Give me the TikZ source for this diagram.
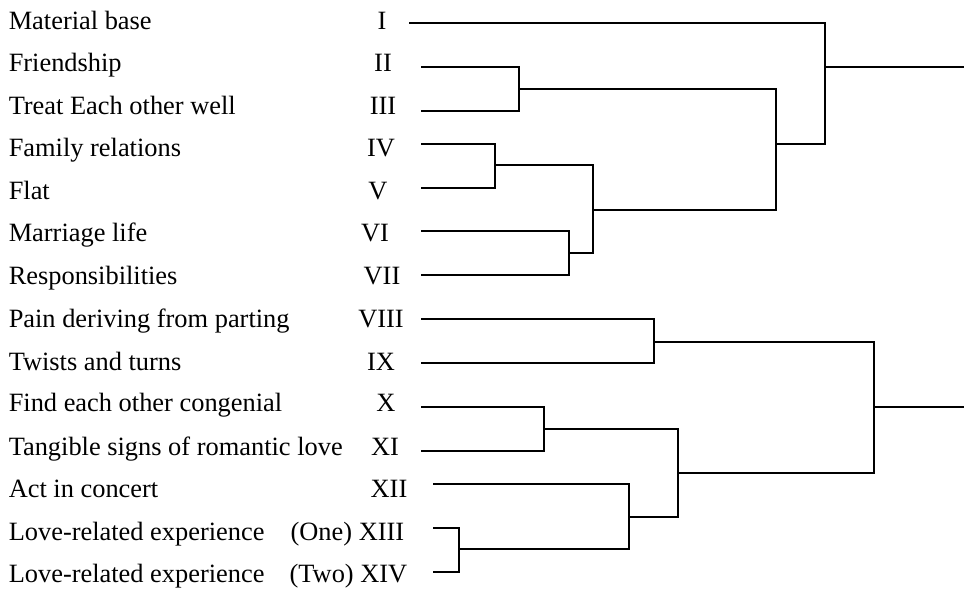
\documentclass[tikz,border=0pt]{standalone}
\usepackage{fontspec}
\setmainfont{Liberation Serif}
\begin{document}
\begin{tikzpicture}[x=0.5pt,y=-0.5pt,line width=0.75pt,
 item/.style={anchor=base west,inner sep=0pt,font=\fontsize{13.2pt}{15pt}\selectfont},
 num/.style={anchor=base,inner sep=0pt,font=\fontsize{13.2pt}{15pt}\selectfont}]
 \useasboundingbox (0,0) rectangle (964,590);
 % item texts
 \node[item] (t1) at (8,29.3) {Material base};
 \node[item] (t2) at (8,71.7) {Friendship};
 \node[item] (t3) at (8,114) {Treat Each other well};
 \node[item] (t4) at (8,156.7) {Family relations};
 \node[item] (t5) at (8,199) {Flat};
 \node[item] (t6) at (8,241.7) {Marriage life};
 \node[item] (t7) at (8,284) {Responsibilities};
 \node[item] (t8) at (8,327.3) {Pain deriving from parting};
 \node[item] (t9) at (8,370) {Twists and turns};
 \node[item] (t10) at (8,411.7) {Find each other congenial};
 \node[item] (t11) at (8,455) {Tangible signs of romantic love};
 \node[item] (t12) at (8,497.3) {Act in concert};
 \node[item] (t13) at (8,540) {Love-related experience};
 \node[item] (t14) at (8,582.3) {Love-related experience};
 % numerals
 \node[num] (n1) at (382,29.3) {I};
 \node[num] (n2) at (383,71.7) {II};
 \node[num] (n3) at (383,114) {III};
 \node[num] (n4) at (381,156.7) {IV};
 \node[num] (n5) at (378,199) {V};
 \node[num] (n6) at (375,241.7) {VI};
 \node[num] (n7) at (382,284) {VII};
 \node[num] (n8) at (381,327.3) {VIII};
 \node[num] (n9) at (381,370) {IX};
 \node[num] (n10) at (386,411.7) {X};
 \node[num] (n11) at (385,455) {XI};
 \node[num] (n12) at (389,497.3) {XII};
 \node[num,anchor=base east] (n13) at (405,540) {(One) XIII};
 \node[num,anchor=base east] (n14) at (408,582.3) {(Two) XIV};
 % leaf ends
 \coordinate (l1) at (409,23);
 \coordinate (l2) at (421,67);
 \coordinate (l3) at (421,111);
 \coordinate (l4) at (421,144);
 \coordinate (l5) at (421,188);
 \coordinate (l6) at (421,231);
 \coordinate (l7) at (421,275);
 \coordinate (l8) at (421,319);
 \coordinate (l9) at (421,363);
 \coordinate (l10) at (421,407);
 \coordinate (l11) at (421,451);
 \coordinate (l12) at (433,484);
 \coordinate (l13) at (433,528);
 \coordinate (l14) at (433,572);
 % joins
 \coordinate (j1) at (519,89);
 \coordinate (j2) at (495,165);
 \coordinate (j3) at (569,253);
 \coordinate (j4) at (593,210);
 \coordinate (j5) at (776,144);
 \coordinate (j6) at (825,67);
 \coordinate (r1) at (964,67);
 \coordinate (j7) at (654,342);
 \coordinate (j8) at (544,429);
 \coordinate (j9) at (459,549);
 \coordinate (j10) at (629,517);
 \coordinate (j11) at (678,473);
 \coordinate (j12) at (874,407);
 \coordinate (r2) at (964,407);
 % upper tree
 \draw (l2) -| (j1) |- (l3);
 \draw (l4) -| (j2) |- (l5);
 \draw (l6) -| (j3) |- (l7);
 \draw (j2) -| (j4) |- (j3);
 \draw (j1) -| (j5) |- (j4);
 \draw (l1) -| (j6) |- (j5);
 \draw (j6) -- (r1);
 % lower tree
 \draw (l8) -| (j7) |- (l9);
 \draw (l10) -| (j8) |- (l11);
 \draw (l13) -| (j9) |- (l14);
 \draw (l12) -| (j10) |- (j9);
 \draw (j8) -| (j11) |- (j10);
 \draw (j7) -| (j12) |- (j11);
 \draw (j12) -- (r2);
\end{tikzpicture}
\end{document}
